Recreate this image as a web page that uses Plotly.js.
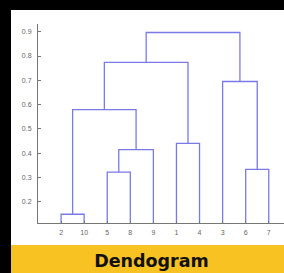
<!DOCTYPE html>
<html>
<head>
<meta charset="utf-8">
<script src="https://cdn.plot.ly/plotly-3.0.1.min.js"></script>
<style>html,body{margin:0;padding:0;background:#000;}#chart{width:284px;height:273px;}</style>
</head>
<body>
<div id="chart"></div>
<script>
// Leaf order along the x axis (labels of original observations)
const leafOrder = [2, 10, 5, 8, 9, 1, 4, 3, 6, 7];
// Linkage: node ids 1..10 are leaves, 11.. are clusters in merge order
const mergeA = [2, 5, 6, 12, 1, 11, 3, 16, 18];
const mergeB = [10, 8, 7, 9, 4, 14, 13, 15, 17];
const mergeHeight = [0.148, 0.322, 0.333, 0.414, 0.44, 0.579, 0.695, 0.774, 0.897];
const yTickVals = [0.2, 0.3, 0.4, 0.5, 0.6, 0.7, 0.8, 0.9];
const chartTitle = 'Dendogram';

const nLeaves = leafOrder.length;
const nodeX = {}, nodeH = {};
leafOrder.forEach((lab, i) => { nodeX[lab] = i + 1; nodeH[lab] = 0; });
const xs = [], ys = [];
mergeA.forEach((a, i) => {
  const b = mergeB[i], h = mergeHeight[i], id = nLeaves + 1 + i;
  xs.push(nodeX[a], nodeX[a], nodeX[b], nodeX[b], null);
  ys.push(nodeH[a], h, h, nodeH[b], null);
  nodeX[id] = (nodeX[a] + nodeX[b]) / 2;
  nodeH[id] = h;
});

const L = 38, T = 24, B = 50, W = 284, H = 273;
const pw = W - L, ph = H - T - B;
const px = v => (v - L) / pw;
const py = v => (H - B - v) / ph;

const tickFont = {family: 'Liberation Sans, Arial, sans-serif', size: 7, color: '#666'};

Plotly.newPlot('chart', [{
  type: 'scatter', mode: 'lines', x: xs, y: ys,
  line: {color: '#7a7ae6', width: 1.3}, hoverinfo: 'skip', showlegend: false
}], {
  width: W, height: H,
  margin: {l: L, r: 0, t: T, b: B, pad: 0},
  paper_bgcolor: '#000', plot_bgcolor: '#fff',
  title: {text: '<b>' + chartTitle + '</b>', x: 151.5 / W, y: 1 - 261 / H,
          xanchor: 'center', yanchor: 'middle', xref: 'container', yref: 'container',
          font: {family: 'DejaVu Sans, sans-serif', size: 17.5, color: '#111'}},
  xaxis: {range: [0, 10.66], tickvals: leafOrder.map((_, i) => i + 1), ticktext: leafOrder.map(String),
          showline: true, linecolor: '#777', linewidth: 1, showgrid: false, zeroline: false,
          ticks: 'inside', ticklen: 2, tickcolor: '#777', tickfont: tickFont, ticklabelstandoff: 3},
  yaxis: {range: [0.112, 0.932], tickvals: yTickVals, ticktext: yTickVals.map(v => v.toFixed(1)),
          showline: true, linecolor: '#777', linewidth: 1, showgrid: false, zeroline: false,
          ticks: 'inside', ticklen: 3, tickcolor: '#777', tickfont: tickFont, ticklabelstandoff: 4},
  shapes: [
    {type: 'rect', xref: 'paper', yref: 'paper', layer: 'below',
     x0: px(11), x1: px(285), y0: py(245), y1: py(10), fillcolor: '#fff', line: {width: 0}},
    {type: 'rect', xref: 'paper', yref: 'paper', layer: 'below',
     x0: px(11), x1: px(285), y0: py(274), y1: py(245), fillcolor: '#f8c223', line: {width: 0}}
  ]
}, {displayModeBar: false, staticPlot: true});
</script>
</body>
</html>
